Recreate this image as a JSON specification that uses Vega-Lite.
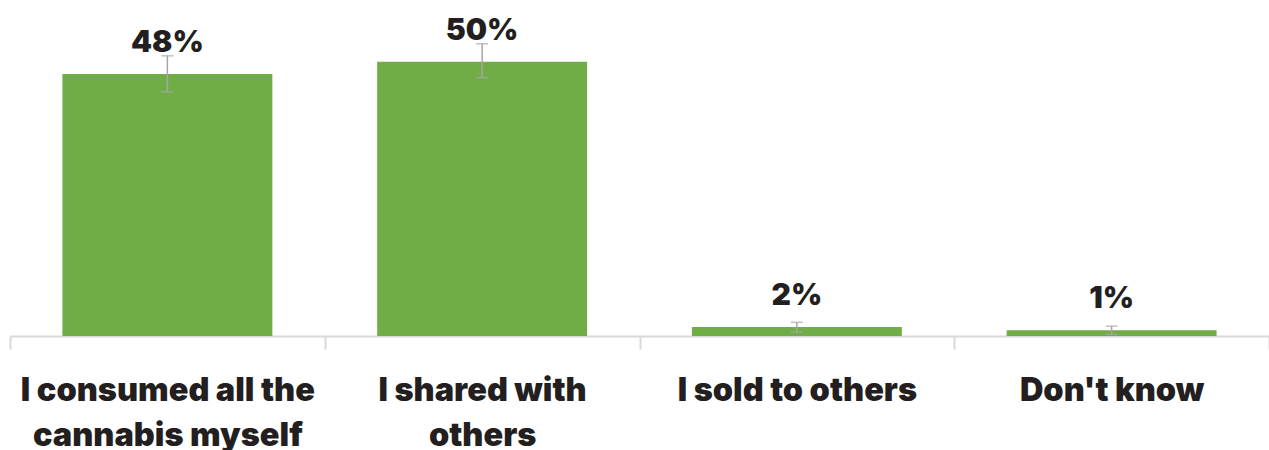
{
  "$schema": "https://vega.github.io/schema/vega-lite/v6.json",
  "width": 1259,
  "height": 336,
  "autosize": "none",
  "padding": {"left": 10, "top": 0, "right": 0, "bottom": 114},
  "background": "white",
  "config": {"view": {"stroke": null}},
  "data": {
    "values": [
      {"category": "I consumed all the|cannabis myself", "value": 47.9, "lo": 44.6, "hi": 51.2, "label": "48%"},
      {"category": "I shared with|others", "value": 50.1, "lo": 47.2, "hi": 53.4, "label": "50%"},
      {"category": "I sold to others", "value": 1.65, "lo": 0.7, "hi": 2.5, "label": "2%"},
      {"category": "Don't know", "value": 1.05, "lo": 0.3, "hi": 1.8, "label": "1%"}
    ]
  },
  "encoding": {
    "x": {
      "field": "category",
      "type": "nominal",
      "sort": null,
      "scale": {"paddingInner": 0, "paddingOuter": 0},
      "axis": {
        "title": null,
        "labelAngle": 0,
        "labelExpr": "split(datum.label, '|')",
        "labelFont": "Inter",
        "labelFontSize": 32.5,
        "labelFontWeight": 900,
        "labelColor": "#231f20",
        "labelLineHeight": 45,
        "labelBaseline": "top",
        "labelPadding": 25,
        "labelLimit": 0,
        "domainColor": "#d9d9d9",
        "domainWidth": 2,
        "ticks": true,
        "tickBand": "extent",
        "tickColor": "#d9d9d9",
        "tickWidth": 2,
        "tickSize": 13,
        "grid": false
      }
    }
  },
  "layer": [
    {
      "mark": {"type": "bar", "color": "#70ad47", "width": {"band": 0.667}},
      "encoding": {
        "y": {"field": "value", "type": "quantitative", "scale": {"domain": [0, 61.4], "nice": false}, "axis": null}
      }
    },
    {
      "mark": {"type": "rule", "color": "#a6a6a6", "strokeWidth": 1.5},
      "encoding": {
        "y": {"field": "lo", "type": "quantitative"},
        "y2": {"field": "hi"}
      }
    },
    {
      "mark": {"type": "tick", "color": "#a6a6a6", "size": 12, "thickness": 1.5},
      "encoding": {"y": {"field": "lo", "type": "quantitative"}}
    },
    {
      "mark": {"type": "tick", "color": "#a6a6a6", "size": 12, "thickness": 1.5},
      "encoding": {"y": {"field": "hi", "type": "quantitative"}}
    },
    {
      "mark": {"type": "text", "font": "Inter", "fontSize": 30, "fontWeight": 900, "color": "#231f20", "baseline": "alphabetic", "dy": -22},
      "encoding": {
        "y": {"field": "value", "type": "quantitative"},
        "text": {"field": "label"}
      }
    }
  ]
}
